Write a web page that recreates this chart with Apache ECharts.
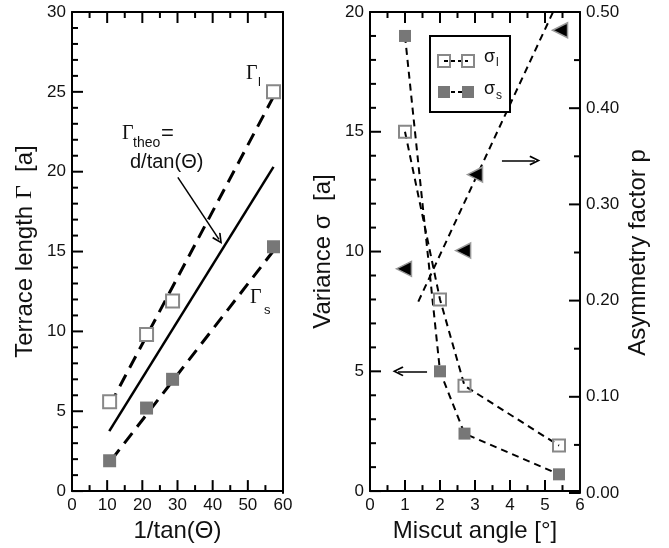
<!DOCTYPE html>
<html>
<head>
<meta charset="utf-8">
<script src="https://cdn.jsdelivr.net/npm/echarts@6/dist/echarts.min.js"></script>
<style>
html, body { margin: 0; padding: 0; background: #fff; }
#main { width: 669px; height: 548px; }
</style>
</head>
<body>
<div id="main"></div>
<script>
// miscut angle [deg] of the four samples
var miscut = [1.0, 2.0, 2.7, 5.4];
// 1/tan(theta) of the same samples
var invTan = [57.3, 28.6, 21.2, 10.7];
// terrace lengths [a]
var gammaL = [25.0, 11.9, 9.8, 5.6];
var gammaS = [15.3, 7.0, 5.2, 1.9];
// straight lines of the left panel (end points)
var gammaLFit = [[10.8, 5.4], [57.3, 24.7]];
var gammaTheo = [[10.6, 3.75], [57.3, 20.3]];
var gammaSFit = [[11.2, 1.95], [57.3, 15.05]];
// variance [a]
var sigmaL = [15.0, 8.0, 4.4, 1.9];
var sigmaS = [19.0, 5.0, 2.4, 0.7];
// asymmetry factor p
var pMiscut = [0.97, 2.66, 3.0, 5.43];
var pValues = [0.233, 0.252, 0.331, 0.481];
var pFit = [[1.38, 0.199], [5.23, 0.50]];
// arrows [from, to]
var theoArrow = [[30.1, 19.65], [41.8, 15.76]];
var rightArrow = [[3.77, 13.8], [4.71, 13.8]];
var leftArrow = [[1.63, 5.0], [0.8, 5.0]];
// axis ranges: min, max, interval, minor steps per interval
var invTanRange = [0, 60, 10, 2];
var gammaRange = [0, 30, 5, 5];
var miscutRange = [0, 6, 1, 2];
var sigmaRange = [0, 20, 5, 5];
var pRange = [0, 0.5, 0.1, 2];

var sans = '"Liberation Sans", Arial, Helvetica, sans-serif';
var serif = '"Liberation Serif", "Times New Roman", serif';
var chevron = 'path://M0,9 L5,0 L10,9 L8.6,9.9 L5,3.2 L1.4,9.9 Z';

// sides of a panel for the tick marks
var BOTTOM = 0, TOP = 1, LEFT = 2, RIGHT = 3;

function zip(xs, ys) {
    return xs.map(function (x, i) { return [x, ys[i]]; });
}

// tick positions of one axis: [value, isMajor]
function tickList(range) {
    var list = [];
    var n = Math.round((range[1] - range[0]) / range[2] * range[3]);
    for (var i = 0; i <= n; i++) {
        list.push([range[0] + i * range[2] / range[3], i % range[3] == 0]);
    }
    return list;
}

// one value axis, the inner ticks are added after the first render
function makeAxis(gridIndex, range, position, showLabel, digits) {
    return {
        type: 'value',
        gridIndex: gridIndex,
        position: position,
        min: range[0],
        max: range[1],
        interval: range[2],
        axisLine: { show: true, onZero: false, lineStyle: { color: '#000', width: 2 } },
        axisTick: { show: false },
        minorTick: { show: false },
        splitLine: { show: false },
        axisLabel: {
            show: showLabel,
            color: '#111',
            fontSize: 17,
            fontFamily: sans,
            margin: 6,
            formatter: function (v) { return v.toFixed(digits); }
        },
        nameLocation: 'middle',
        nameTextStyle: { color: '#111', fontSize: 24, fontFamily: sans }
    };
}

// grid 0 / 1: main axes, grid 2 / 3: mirror axes on top and right
var xLeft = makeAxis(0, invTanRange, 'bottom', true, 0);
xLeft.name = '1/tan(Θ)';
xLeft.nameGap = 18;
var xRight = makeAxis(1, miscutRange, 'bottom', true, 0);
xRight.name = 'Miscut angle [°]';
xRight.nameGap = 18;
var xLeftTop = makeAxis(2, invTanRange, 'top', false, 0);
var xRightTop = makeAxis(3, miscutRange, 'top', false, 0);

var yLeft = makeAxis(0, gammaRange, 'left', true, 0);
yLeft.name = '{a|Terrace length }{g|Γ}{a|  [a]}';
yLeft.nameGap = 35;
yLeft.nameTextStyle.rich = {
    a: { fontSize: 24, fontFamily: sans, color: '#111' },
    g: { fontSize: 24, fontFamily: serif, color: '#111' }
};
var ySigma = makeAxis(1, sigmaRange, 'left', true, 0);
ySigma.name = 'Variance σ  [a]';
ySigma.nameGap = 35;
// plain right edge of the left panel
var yLeftRight = makeAxis(2, gammaRange, 'right', false, 0);
var yP = makeAxis(3, pRange, 'right', true, 2);
yP.name = 'Asymmetry factor p';
yP.nameGap = 46;

var arrowMark = function (arrows) {
    return {
        silent: true,
        animation: false,
        symbol: ['none', chevron],
        symbolSize: [10, 11],
        label: { show: false },
        lineStyle: { color: '#000', width: 1.5, type: 'solid' },
        emphasis: { disabled: true },
        data: arrows.map(function (a) {
            return [{ coord: a[0] }, { coord: a[1] }];
        })
    };
};

function txt(x, y, s, size, font) {
    return {
        type: 'text', x: x, y: y, z: 100,
        style: { text: s, fontSize: size, fontFamily: font || sans, fill: '#111', verticalAlign: 'middle', align: 'left' }
    };
}

var leftBox = { left: 72, right: 386, top: 12, bottom: 55 };
var rightBox = { left: 370, right: 89, top: 12, bottom: 55 };

var labels = [
    // labels of the left panel
    txt(246, 74, 'Γ', 20, serif),
    txt(258, 82, 'l', 13),
    txt(250, 298, 'Γ', 20, serif),
    txt(264, 310, 's', 13),
    txt(122, 134, 'Γ', 20, serif),
    txt(133, 143, 'theo', 14),
    txt(161, 134, '=', 22),
    txt(130, 162, 'd/tan(Θ)', 20),
    // legend of the right panel
    {
        type: 'rect', z: 99, shape: { x: 430, y: 36, width: 80, height: 76 },
        style: { fill: '#fff', stroke: '#000', lineWidth: 2 }
    },
    {
        type: 'line', z: 100, shape: { x1: 444, y1: 61, x2: 468, y2: 61 },
        style: { stroke: '#000', lineWidth: 2, lineDash: [4, 3] }
    },
    {
        type: 'rect', z: 101, shape: { x: 438, y: 55, width: 12, height: 12 },
        style: { fill: 'none', stroke: '#888', lineWidth: 2 }
    },
    {
        type: 'rect', z: 101, shape: { x: 462, y: 55, width: 12, height: 12 },
        style: { fill: 'none', stroke: '#888', lineWidth: 2 }
    },
    {
        type: 'line', z: 100, shape: { x1: 444, y1: 92, x2: 468, y2: 92 },
        style: { stroke: '#000', lineWidth: 2, lineDash: [4, 3] }
    },
    {
        type: 'rect', z: 101, shape: { x: 438, y: 86, width: 12, height: 12 },
        style: { fill: '#777' }
    },
    {
        type: 'rect', z: 101, shape: { x: 462, y: 86, width: 12, height: 12 },
        style: { fill: '#777' }
    },
    txt(484, 57, 'σ', 18),
    txt(496, 63, 'l', 12),
    txt(484, 89, 'σ', 18),
    txt(496, 96, 's', 12)
];

var option = {
    animation: false,
    backgroundColor: '#fff',
    grid: [leftBox, rightBox, leftBox, rightBox],
    xAxis: [xLeft, xRight, xLeftTop, xRightTop],
    yAxis: [yLeft, ySigma, yLeftRight, yP],
    series: [
        {
            type: 'line', xAxisIndex: 0, yAxisIndex: 0, data: gammaLFit, symbol: 'none', z: 2,
            lineStyle: { color: '#000', width: 3, type: [13, 8] }
        },
        {
            type: 'line', xAxisIndex: 0, yAxisIndex: 0, data: gammaTheo, symbol: 'none', z: 2,
            lineStyle: { color: '#000', width: 2.5 },
            markLine: arrowMark([theoArrow])
        },
        {
            type: 'line', xAxisIndex: 0, yAxisIndex: 0, data: gammaSFit, symbol: 'none', z: 2,
            lineStyle: { color: '#000', width: 3, type: [13, 8] }
        },
        {
            type: 'scatter', xAxisIndex: 0, yAxisIndex: 0, data: zip(invTan, gammaL), z: 3,
            symbol: 'rect', symbolSize: 13,
            itemStyle: { color: '#fff', borderColor: '#888', borderWidth: 2, opacity: 1 }
        },
        {
            type: 'scatter', xAxisIndex: 0, yAxisIndex: 0, data: zip(invTan, gammaS), z: 3,
            symbol: 'rect', symbolSize: 13,
            itemStyle: { color: '#777', opacity: 1 }
        },
        {
            type: 'line', xAxisIndex: 1, yAxisIndex: 1, data: zip(miscut, sigmaL), z: 3,
            symbol: 'rect', symbolSize: 12, showSymbol: true,
            itemStyle: { color: 'rgba(255,255,255,0)', borderColor: '#888', borderWidth: 2 },
            lineStyle: { color: '#000', width: 2, type: [7, 5] },
            markLine: arrowMark([rightArrow, leftArrow])
        },
        {
            type: 'line', xAxisIndex: 1, yAxisIndex: 1, data: zip(miscut, sigmaS), z: 3,
            symbol: 'rect', symbolSize: 12, showSymbol: true,
            itemStyle: { color: '#777' },
            lineStyle: { color: '#000', width: 2, type: [7, 5] }
        },
        {
            type: 'line', xAxisIndex: 3, yAxisIndex: 3, data: pFit, symbol: 'none', z: 2,
            lineStyle: { color: '#000', width: 2, type: [7, 5] }
        },
        {
            type: 'scatter', xAxisIndex: 3, yAxisIndex: 3, data: zip(pMiscut, pValues), z: 4,
            symbol: 'triangle', symbolSize: 15, symbolRotate: 90,
            itemStyle: { color: '#000', borderColor: '#999', borderWidth: 1.5, opacity: 1 }
        }
    ],
    graphic: labels
};

var myChart = echarts.init(document.getElementById('main'));
myChart.setOption(option);

// inner tick marks, placed through the axes of each panel
var tickLines = [];
function addTicks(finder, xr, yr, range, side) {
    tickList(range).forEach(function (t) {
        var len = t[1] ? 11 : 6;
        var p, q;
        if (side == BOTTOM) {
            p = myChart.convertToPixel(finder, [t[0], yr[0]]);
            q = [p[0], p[1] - len];
        } else if (side == TOP) {
            p = myChart.convertToPixel(finder, [t[0], yr[1]]);
            q = [p[0], p[1] + len];
        } else if (side == LEFT) {
            p = myChart.convertToPixel(finder, [xr[0], t[0]]);
            q = [p[0] + len, p[1]];
        } else {
            p = myChart.convertToPixel(finder, [xr[1], t[0]]);
            q = [p[0] - len, p[1]];
        }
        tickLines.push({
            type: 'line', z: 50, silent: true,
            shape: { x1: p[0], y1: p[1], x2: q[0], y2: q[1] },
            style: { stroke: '#000', lineWidth: 2 }
        });
    });
}
var leftPanel = { xAxisIndex: 0, yAxisIndex: 0 };
var rightPanel = { xAxisIndex: 1, yAxisIndex: 1 };
var pPanel = { xAxisIndex: 3, yAxisIndex: 3 };
addTicks(leftPanel, invTanRange, gammaRange, invTanRange, BOTTOM);
addTicks(leftPanel, invTanRange, gammaRange, invTanRange, TOP);
addTicks(leftPanel, invTanRange, gammaRange, gammaRange, LEFT);
addTicks(rightPanel, miscutRange, sigmaRange, miscutRange, BOTTOM);
addTicks(rightPanel, miscutRange, sigmaRange, miscutRange, TOP);
addTicks(rightPanel, miscutRange, sigmaRange, sigmaRange, LEFT);
addTicks(pPanel, miscutRange, pRange, pRange, RIGHT);

myChart.setOption({ graphic: labels.concat(tickLines) });
</script>
</body>
</html>
